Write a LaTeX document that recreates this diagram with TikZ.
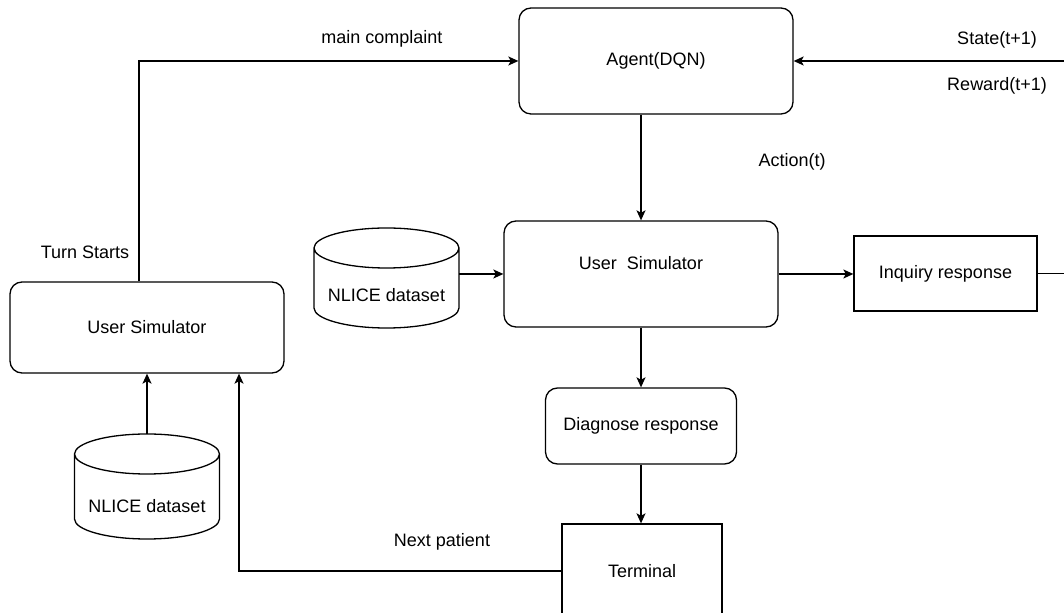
\documentclass[tikz,border=0pt]{standalone}
\usepackage{fontspec}
\setmainfont{Liberation Sans}
\usetikzlibrary{arrows.meta,calc}

% outline of a data store drawn round a named node
\newcommand{\dbshape}[1]{%
  \draw[ln] ([yshift=-10pt]#1.north west) -- ([yshift=10pt]#1.south west)
    arc[start angle=180, end angle=360, x radius=36.25pt, y radius=10pt]
    -- ([yshift=-10pt]#1.north east)
    arc[start angle=0, end angle=180, x radius=36.25pt, y radius=10pt]
    arc[start angle=180, end angle=360, x radius=36.25pt, y radius=10pt];}

\begin{document}
\begin{tikzpicture}[x=0.5pt, y=-0.5pt,
  every node/.style={font=\fontsize{9}{11}\selectfont},
  rbox/.style={draw, line width=0.65pt, rounded corners=6pt, align=center},
  sbox/.style={draw, line width=0.65pt, align=center},
  dbbox/.style={minimum width=72.5pt, outer sep=0pt},
  arr/.style={line width=0.65pt, -{Stealth[length=5pt, width=4.5pt, inset=1.2pt]}},
  ln/.style={line width=0.65pt}]
  \useasboundingbox (0,0) rectangle (1064,613);

  % boxes
  \node[rbox, minimum width=137pt, minimum height=53pt] (agent) at (656,61) {Agent(DQN)};
  \node[rbox, minimum width=137pt, minimum height=53pt] (msim) at (641,274) {User\ \ Simulator\\ ~};
  \node[rbox, minimum width=137pt, minimum height=45.5pt] (lsim) at (147,327.5) {User Simulator};
  \node[rbox, minimum width=95.5pt, minimum height=38pt] (diag) at (641,426) {Diagnose response};
  \node[sbox, minimum width=91.5pt, minimum height=37.5pt] (inq) at (945.5,273.5) {Inquiry response};
  \node[sbox, minimum width=80pt, minimum height=47pt] (term) at (642,571) {Terminal};
  \node[dbbox, minimum height=50pt] (mdb) at (386.5,278) {\raisebox{-8.5pt}[\height][\depth]{NLICE dataset}};
  \node[dbbox, minimum height=52.5pt] (ldb) at (147,486.5) {\raisebox{-10pt}[\height][\depth]{NLICE dataset}};
  \dbshape{mdb}
  \dbshape{ldb}

  % free ends
  \coordinate (sin) at (1064,61);
  \coordinate (iout) at (1064,273.5);

  % arrows
  \draw[arr] ($(lsim.north)+(-8,0)$) |- (agent.west);
  \draw[arr] (sin) -- (agent.east);
  \draw[arr] (agent.south -| msim.north) -- (msim.north);
  \draw[arr] (mdb.east |- msim.west) -- (msim.west);
  \draw[arr] (msim.east) -- (msim.east -| inq.west);
  \draw[ln] (inq.east) -- (iout);
  \draw[arr] (msim.south) -- (msim.south |- diag.north);
  \draw[arr] (diag.south) -- (diag.south |- term.north);
  \draw[arr] (term.west) -| ($(lsim.south)+(92,0)$);
  \draw[arr] (ldb.north) -- (ldb.north |- lsim.south);

  % labels
  \node (mc) at (382,39) {main complaint};
  \node (st) at (997,40) {State(t+1)};
  \node (rw) at (997,86) {Reward(t+1)};
  \node (ac) at (792,162) {Action(t)};
  \node (ts) at (85,252) {Turn Starts};
  \node (np) at (442,542) {Next patient};
\end{tikzpicture}
\end{document}
